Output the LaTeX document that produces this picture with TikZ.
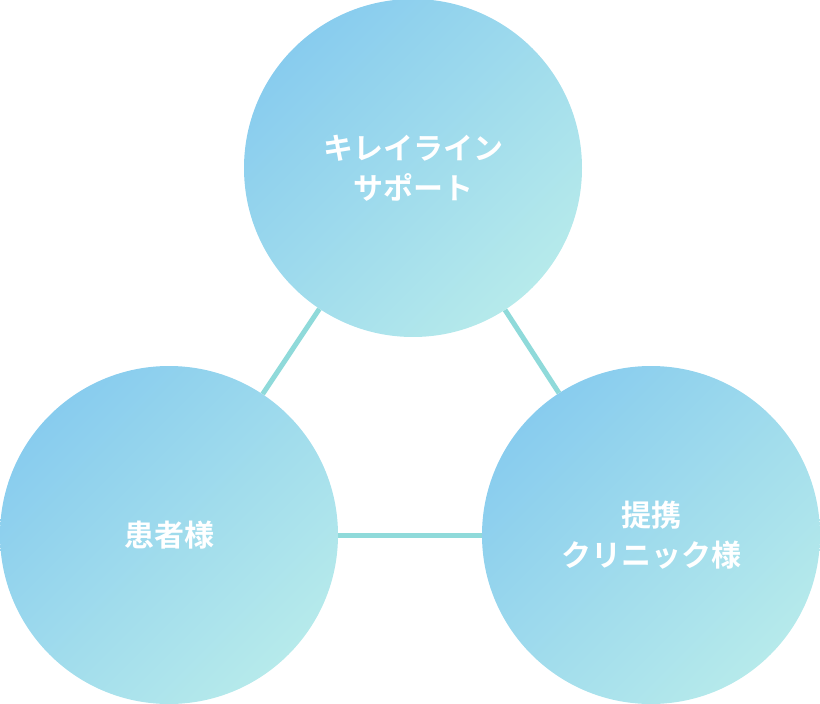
\documentclass[tikz,border=0pt]{standalone}
\usepackage{fontspec}
\newfontfamily\jp{Noto Sans CJK JP}[BoldFont={* Bold}]
\definecolor{ca}{HTML}{88CCEE}
\definecolor{cb}{HTML}{B6EAEB}
\definecolor{ln}{HTML}{8FDADA}
\begin{document}
\begin{tikzpicture}[x=1pt,y=-1pt,
  bub/.style={circle,minimum size=338pt,inner sep=0pt,top color=ca,bottom color=cb,shading angle=45,
    text=white,font=\jp\bfseries\fontsize{30}{40}\selectfont,align=center},
  link/.style={draw=ln,line width=5pt}]
\useasboundingbox (0,0) rectangle (820,704);
\node[bub] (top) at (413,168) {キレイライン\\サポート};
\node[bub] (left) at (169,535) {患者様};
\node[bub] (right) at (651,535) {提携\\クリニック様};
\draw[link] (top) -- (left);
\draw[link] (top) -- (right);
\draw[link] (left) -- (right);
\end{tikzpicture}
\end{document}
